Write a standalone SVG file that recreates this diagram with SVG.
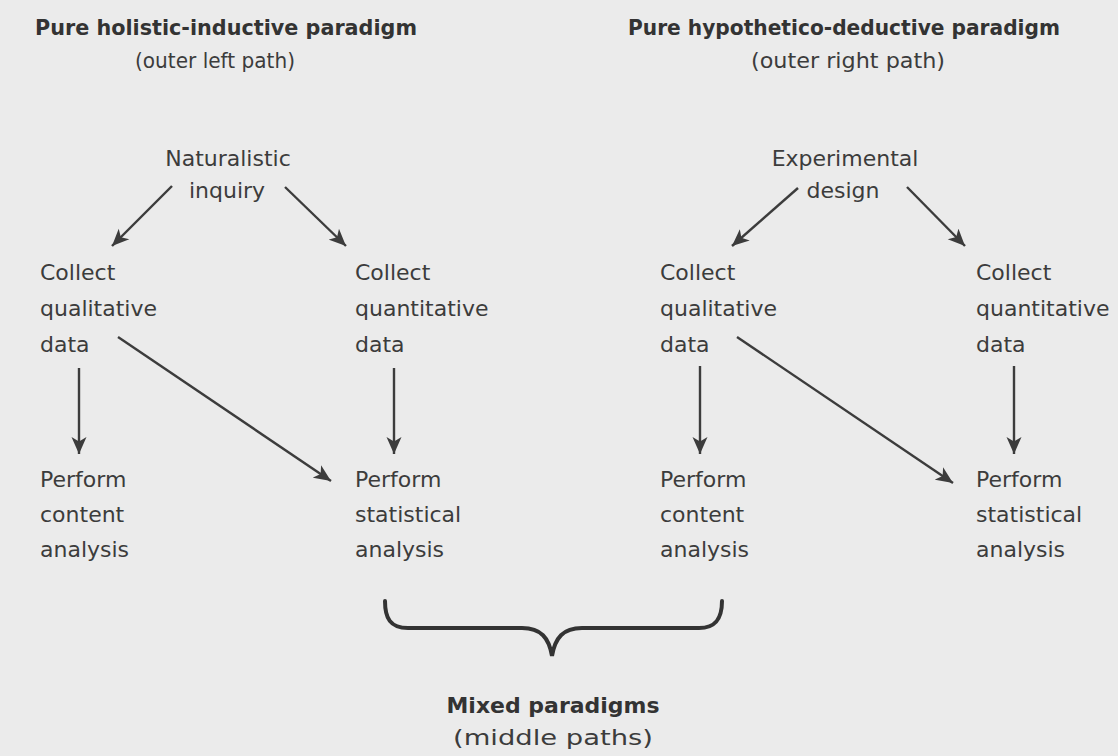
<svg xmlns="http://www.w3.org/2000/svg" width="1118" height="756" viewBox="0 0 1118 756">
<style>
text{font-family:"DejaVu Sans","Liberation Sans",sans-serif;fill:#3c3c3c}
.b{font-weight:bold;font-size:21px;fill:#333}
.s{font-size:22px}
.n{font-size:22px}
.c{text-anchor:middle}
.ar{stroke:#3c3c3c;stroke-width:2.4;fill:none;marker-end:url(#ah)}
.br{stroke:#333;stroke-width:4;fill:none;stroke-linecap:round}
</style>
<defs>
<marker id="ah" markerUnits="userSpaceOnUse" markerWidth="18" markerHeight="16" refX="17" refY="8" orient="auto">
<path d="M0,0.5 L17,8 L0,15.5 L4.5,8 z" fill="#3c3c3c"/>
</marker>
</defs>
<rect width="1118" height="756" fill="#ebebeb"/>
<g id="title-left">
<text class="b" x="35" y="35" textLength="382" lengthAdjust="spacingAndGlyphs">Pure holistic-inductive paradigm</text>
<text class="s c" x="215" y="68" textLength="160" lengthAdjust="spacingAndGlyphs">(outer left path)</text>
</g>
<g id="title-right">
<text class="b" x="628" y="35" textLength="432" lengthAdjust="spacingAndGlyphs">Pure hypothetico-deductive paradigm</text>
<text class="s c" x="848" y="68" textLength="194" lengthAdjust="spacingAndGlyphs">(outer right path)</text>
</g>
<g id="naturalistic">
<text class="n c" x="228" y="166">Naturalistic</text>
<text class="n c" x="227" y="198">inquiry</text>
</g>
<g id="experimental">
<text class="n c" x="845" y="166">Experimental</text>
<text class="n c" x="843" y="198">design</text>
</g>
<g id="collect-qual-left">
<text class="n" x="40" y="280">Collect</text>
<text class="n" x="40" y="316">qualitative</text>
<text class="n" x="40" y="352">data</text>
</g>
<g id="collect-quant-left">
<text class="n" x="355" y="280">Collect</text>
<text class="n" x="355" y="316">quantitative</text>
<text class="n" x="355" y="352">data</text>
</g>
<g id="collect-qual-right">
<text class="n" x="660" y="280">Collect</text>
<text class="n" x="660" y="316">qualitative</text>
<text class="n" x="660" y="352">data</text>
</g>
<g id="collect-quant-right">
<text class="n" x="976" y="280">Collect</text>
<text class="n" x="976" y="316">quantitative</text>
<text class="n" x="976" y="352">data</text>
</g>
<g id="content-left">
<text class="n" x="40" y="487">Perform</text>
<text class="n" x="40" y="522">content</text>
<text class="n" x="40" y="557">analysis</text>
</g>
<g id="statistical-left">
<text class="n" x="355" y="487">Perform</text>
<text class="n" x="355" y="522">statistical</text>
<text class="n" x="355" y="557">analysis</text>
</g>
<g id="content-right">
<text class="n" x="660" y="487">Perform</text>
<text class="n" x="660" y="522">content</text>
<text class="n" x="660" y="557">analysis</text>
</g>
<g id="statistical-right">
<text class="n" x="976" y="487">Perform</text>
<text class="n" x="976" y="522">statistical</text>
<text class="n" x="976" y="557">analysis</text>
</g>
<g id="mixed">
<path class="br" d="M385,601 C385,618 390,628 408,628 L522,628 C541,628 549,638 552,656 C555,638 563,628 582,628 L699,628 C716,628 722,618 722,601"/>
<text class="b c" x="553" y="713" textLength="213" lengthAdjust="spacingAndGlyphs">Mixed paradigms</text>
<text class="s c" x="553" y="745" textLength="200" lengthAdjust="spacingAndGlyphs">(middle paths)</text>
</g>
<g id="connectors">
<line class="ar" x1="172" y1="186" x2="112" y2="246"/>
<line class="ar" x1="285" y1="187" x2="346" y2="246"/>
<line class="ar" x1="798" y1="188" x2="732" y2="246"/>
<line class="ar" x1="907" y1="187" x2="965" y2="246"/>
<line class="ar" x1="79" y1="368" x2="79" y2="454"/>
<line class="ar" x1="394" y1="368" x2="394" y2="454"/>
<line class="ar" x1="700" y1="366" x2="700" y2="454"/>
<line class="ar" x1="1014" y1="366" x2="1014" y2="454"/>
<line class="ar" x1="118" y1="337" x2="331" y2="481"/>
<line class="ar" x1="737" y1="337" x2="953" y2="483"/>
</g>
</svg>
